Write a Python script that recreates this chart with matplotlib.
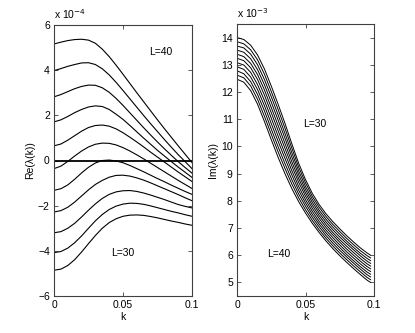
import matplotlib
matplotlib.use("Agg")
import matplotlib.pyplot as plt
from matplotlib.ticker import FixedLocator, FixedFormatter

plt.rcParams['font.family'] = ['Liberation Sans', 'DejaVu Sans']

# ---------------- data ----------------
k_re = [0.0, 0.005, 0.01, 0.015, 0.02, 0.025, 0.03, 0.035, 0.04, 0.045, 0.05,
        0.055, 0.06, 0.065, 0.07, 0.075, 0.08, 0.085, 0.09, 0.095, 0.1]

# Re(lambda(k)) in units of 1e-4, L = 40 (top) ... L = 30 (bottom)
re_L40 = [5.16, 5.24, 5.31, 5.355, 5.37, 5.33, 5.19, 4.93, 4.6, 4.22, 3.82, 3.41, 3.0, 2.6, 2.2, 1.8, 1.41, 1.03, 0.65, 0.28, -0.09]
re_L39 = [3.98, 4.07, 4.17, 4.25, 4.32, 4.33, 4.25, 4.06, 3.79, 3.46, 3.1, 2.73, 2.36, 1.99, 1.63, 1.28, 0.93, 0.59, 0.26, -0.05, -0.36]
re_L38 = [2.82, 2.92, 3.05, 3.18, 3.28, 3.34, 3.33, 3.22, 3.02, 2.75, 2.44, 2.11, 1.78, 1.45, 1.13, 0.82, 0.52, 0.23, -0.05, -0.31, -0.56]
re_L37 = [1.71, 1.8, 1.95, 2.12, 2.26, 2.37, 2.42, 2.39, 2.26, 2.05, 1.82, 1.55, 1.27, 0.99, 0.72, 0.45, 0.2, -0.05, -0.29, -0.52, -0.75]
re_L36 = [0.65, 0.73, 0.9, 1.1, 1.3, 1.46, 1.55, 1.57, 1.52, 1.4, 1.23, 1.03, 0.82, 0.6, 0.37, 0.15, -0.07, -0.29, -0.51, -0.72, -0.93]
re_L35 = [-0.36, -0.25, -0.04, 0.2, 0.42, 0.6, 0.72, 0.77, 0.76, 0.69, 0.57, 0.42, 0.25, 0.07, -0.12, -0.31, -0.5, -0.69, -0.88, -1.06, -1.24]
re_L34 = [-1.32, -1.25, -1.08, -0.83, -0.55, -0.3, -0.11, 0.0, 0.02, -0.02, -0.1, -0.22, -0.36, -0.5, -0.65, -0.8, -0.94, -1.09, -1.23, -1.37, -1.5]
re_L33 = [-2.28, -2.22, -2.07, -1.84, -1.57, -1.3, -1.06, -0.88, -0.74, -0.66, -0.65, -0.69, -0.77, -0.87, -0.99, -1.12, -1.25, -1.38, -1.51, -1.65, -1.78]
re_L32 = [-3.2, -3.15, -3.0, -2.78, -2.5, -2.2, -1.92, -1.68, -1.5, -1.39, -1.34, -1.33, -1.37, -1.44, -1.53, -1.63, -1.73, -1.84, -1.95, -2.03, -2.1]
re_L31 = [-4.08, -4.03, -3.88, -3.64, -3.34, -3.0, -2.67, -2.39, -2.17, -2.02, -1.93, -1.89, -1.9, -1.94, -2.01, -2.09, -2.17, -2.25, -2.32, -2.4, -2.47]
re_L30 = [-4.86, -4.81, -4.65, -4.39, -4.05, -3.68, -3.32, -3.0, -2.75, -2.58, -2.47, -2.42, -2.41, -2.43, -2.48, -2.54, -2.61, -2.68, -2.74, -2.81, -2.87]

k_im = [0.0, 0.005, 0.01, 0.015, 0.02, 0.025, 0.03, 0.035, 0.04, 0.045, 0.05,
        0.055, 0.06, 0.065, 0.07, 0.075, 0.08, 0.085, 0.09, 0.095, 0.0975]

# Im(lambda(k)) in units of 1e-3, L = 30 (top) ... L = 40 (bottom)
im_L30 = [14.0, 13.93, 13.72, 13.36, 12.85, 12.22, 11.55, 10.85, 10.1, 9.38, 8.78, 8.27, 7.86, 7.52, 7.23, 6.97, 6.72, 6.49, 6.27, 6.08, 6.0]
im_L31 = [13.85, 13.77, 13.55, 13.18, 12.66, 12.02, 11.36, 10.67, 9.94, 9.24, 8.66, 8.16, 7.76, 7.42, 7.13, 6.87, 6.62, 6.39, 6.17, 5.98, 5.9]
im_L32 = [13.69, 13.62, 13.39, 13.0, 12.46, 11.83, 11.16, 10.48, 9.77, 9.1, 8.53, 8.05, 7.65, 7.32, 7.03, 6.77, 6.52, 6.29, 6.07, 5.88, 5.8]
im_L33 = [13.54, 13.46, 13.22, 12.82, 12.27, 11.63, 10.97, 10.3, 9.61, 8.96, 8.41, 7.94, 7.55, 7.22, 6.93, 6.67, 6.43, 6.2, 5.98, 5.78, 5.7]
im_L34 = [13.39, 13.3, 13.05, 12.64, 12.08, 11.43, 10.77, 10.11, 9.44, 8.82, 8.29, 7.83, 7.45, 7.12, 6.83, 6.57, 6.33, 6.1, 5.88, 5.68, 5.6]
im_L35 = [13.24, 13.15, 12.89, 12.46, 11.89, 11.24, 10.58, 9.93, 9.28, 8.68, 8.17, 7.72, 7.35, 7.02, 6.74, 6.48, 6.23, 6.0, 5.78, 5.58, 5.5]
im_L36 = [13.08, 12.99, 12.72, 12.27, 11.69, 11.04, 10.38, 9.74, 9.11, 8.53, 8.04, 7.61, 7.24, 6.92, 6.64, 6.38, 6.13, 5.9, 5.68, 5.48, 5.4]
im_L37 = [12.93, 12.83, 12.55, 12.09, 11.5, 10.84, 10.19, 9.56, 8.95, 8.39, 7.92, 7.5, 7.14, 6.82, 6.54, 6.28, 6.03, 5.8, 5.58, 5.38, 5.3]
im_L38 = [12.78, 12.67, 12.38, 11.91, 11.31, 10.64, 9.99, 9.37, 8.78, 8.25, 7.8, 7.39, 7.04, 6.72, 6.44, 6.18, 5.94, 5.71, 5.49, 5.28, 5.2]
im_L39 = [12.62, 12.52, 12.22, 11.73, 11.11, 10.45, 9.8, 9.19, 8.62, 8.11, 7.67, 7.28, 6.93, 6.62, 6.34, 6.08, 5.84, 5.61, 5.39, 5.18, 5.1]
im_L40 = [12.47, 12.36, 12.05, 11.55, 10.92, 10.25, 9.6, 9.0, 8.45, 7.97, 7.55, 7.17, 6.83, 6.52, 6.24, 5.98, 5.74, 5.51, 5.29, 5.08, 5.0]

x_ticks = [0, 0.05, 0.1]
x_ticklabels = ["0", "0.05", "0.1"]
re_yticks = [-6, -4, -2, 0, 2, 4, 6]
im_yticks = [5, 6, 7, 8, 9, 10, 11, 12, 13, 14]

re_series = [re_L40, re_L39, re_L38, re_L37, re_L36, re_L35, re_L34, re_L33, re_L32, re_L31, re_L30]
im_series = [im_L30, im_L31, im_L32, im_L33, im_L34, im_L35, im_L36, im_L37, im_L38, im_L39, im_L40]

# ---------------- figure ----------------
W, H = 415, 333
fig = plt.figure(figsize=(W / 100, H / 100), dpi=100)
fig.patch.set_facecolor('white')

ax1 = fig.add_axes([54 / W, (H - 296) / H, 138 / W, 271 / H])
ax2 = fig.add_axes([237 / W, (H - 296) / H, 137 / W, 272 / H])

FS = 7.5
edge = '#404040'

def style(ax):
    for s in ax.spines.values():
        s.set_color(edge)
        s.set_linewidth(0.8)
    ax.tick_params(direction='in', top=True, right=True, length=3, width=0.6,
                   color=edge, labelsize=FS, pad=3, labelcolor='black')
    ax.set_xlim(0, 0.1)
    ax.xaxis.set_major_locator(FixedLocator(x_ticks))
    ax.xaxis.set_major_formatter(FixedFormatter(x_ticklabels))
    ax.set_xlabel('k', fontsize=FS, labelpad=1)

for ys in re_series:
    ax1.plot(k_re, ys, color='black', lw=0.8)
ax1.axhline(0, color='black', lw=1.3)
ax1.set_ylim(-6, 6)
ax1.set_yticks(re_yticks)
ax1.set_yticklabels([('\u2212' + str(-v)) if v < 0 else str(v) for v in re_yticks])
style(ax1)
ax1.set_ylabel('Re(\u03bb(k))', fontsize=FS, labelpad=2)
ax1.text(0.0, 1.015, r'x 10$^{-4}$', transform=ax1.transAxes, fontsize=FS,
         ha='left', va='bottom')
ax1.text(0.077, 4.8, 'L=40', fontsize=FS, ha='center', va='center')
ax1.text(0.05, -4.1, 'L=30', fontsize=FS, ha='center', va='center')

for ys in im_series:
    ax2.plot(k_im, ys, color='black', lw=0.7)
ax2.set_ylim(4.5, 14.5)
ax2.set_yticks(im_yticks)
ax2.set_yticklabels([str(v) for v in im_yticks])
style(ax2)
ax2.set_ylabel('Im(\u03bb(k))', fontsize=FS, labelpad=2)
ax2.text(0.0, 1.015, r'x 10$^{-3}$', transform=ax2.transAxes, fontsize=FS,
         ha='left', va='bottom')
ax2.text(0.0566, 10.83, 'L=30', fontsize=FS, ha='center', va='center')
ax2.text(0.0307, 6.06, 'L=40', fontsize=FS, ha='center', va='center')

fig.savefig('out.png', dpi=100, facecolor='white')
